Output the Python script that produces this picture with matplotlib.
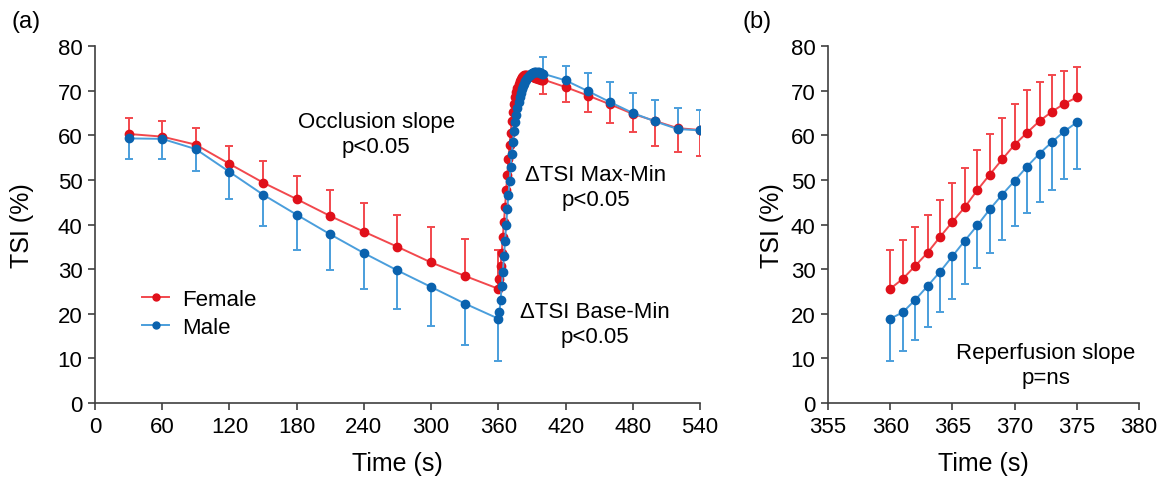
import numpy as np
import matplotlib
matplotlib.use("Agg")
import matplotlib.pyplot as plt
from matplotlib.lines import Line2D

plt.rcParams['font.family'] = ['Liberation Sans', 'DejaVu Sans']

# occlusion phase, every 30 s
occ_t = [30, 60, 90, 120, 150, 180, 210, 240, 270, 300, 330, 360]
fem_occ = [60.3, 59.7, 57.9, 53.6, 49.4, 45.7, 41.9, 38.4, 35.0, 31.5, 28.5, 25.6]
fem_occ_err = [3.5, 3.6, 3.7, 4.1, 4.8, 5.2, 5.8, 6.4, 7.1, 8.0, 8.2, 8.7]
male_occ = [59.3, 59.2, 56.9, 51.8, 46.7, 42.2, 37.8, 33.6, 29.7, 26.0, 22.3, 18.9]
male_occ_err = [4.6, 4.5, 4.9, 6.0, 7.0, 7.9, 8.1, 8.1, 8.6, 8.8, 9.2, 9.4]

# reperfusion, every second 361-375
rep_t = list(range(361, 376))
fem_rep = [27.8, 30.7, 33.7, 37.2, 40.6, 43.9, 47.7, 51.2, 54.6, 57.9, 60.6, 63.2, 65.3, 67.1, 68.5]
fem_rep_err = [8.8, 8.8, 8.5, 8.2, 8.6, 8.8, 8.9, 9.1, 9.2, 9.1, 9.6, 8.7, 8.1, 7.4, 6.7]
male_rep = [20.3, 23.1, 26.2, 29.4, 32.9, 36.4, 39.8, 43.4, 46.7, 49.8, 53.0, 55.9, 58.5, 60.9, 62.9]
male_rep_err = [8.7, 9.0, 9.1, 9.1, 9.6, 9.7, 9.6, 9.7, 10.1, 10.2, 10.4, 10.8, 10.7, 10.7, 10.5]

# reperfusion 376-399 (no error bars shown)
late_t = list(range(376, 400))
fem_late = [69.7, 70.7, 71.5, 72.1, 72.6, 73.0, 73.3, 73.5, 73.6, 73.6, 73.6, 73.5,
            73.4, 73.3, 73.2, 73.1, 73.0, 72.9, 72.8, 72.7, 72.6, 72.6, 72.5, 72.5]
male_late = [64.6, 66.1, 67.4, 68.5, 69.5, 70.3, 71.0, 71.6, 72.1, 72.5, 72.9, 73.2,
             73.5, 73.7, 73.9, 74.0, 74.1, 74.2, 74.2, 74.2, 74.1, 74.0, 73.9, 73.8]

# recovery, every 20 s
rec_t = [400, 420, 440, 460, 480, 500, 520, 540]
fem_rec = [72.5, 70.8, 68.9, 66.9, 64.8, 63.2, 61.6, 61.2]
fem_rec_err = [3.2, 3.4, 3.7, 4.1, 4.0, 5.5, 5.3, 5.8]
male_rec = [73.8, 72.3, 69.9, 67.4, 65.0, 63.1, 61.4, 61.1]
male_rec_err = [3.7, 3.3, 4.1, 4.5, 4.5, 4.7, 4.7, 4.6]

red_line, red_dot = '#F2484D', '#E0101A'
blue_line, blue_dot = '#4A9EDC', '#0A62AE'
spine_col = '#404040'

fig = plt.figure(figsize=(11.71, 4.85), dpi=100)
ax1 = fig.add_axes([0.0811, 0.167, 0.5167, 0.736])
ax2 = fig.add_axes([0.7071, 0.167, 0.2656, 0.736])

for ax in (ax1, ax2):
    ax.spines['top'].set_visible(False)
    ax.spines['right'].set_visible(False)
    for s in ('left', 'bottom'):
        ax.spines[s].set_color(spine_col)
        ax.spines[s].set_linewidth(1.2)
    ax.tick_params(direction='out', length=5, width=1.2, color=spine_col, labelsize=16, pad=4)
    ax.set_ylim(0, 80)
    ax.set_yticks(np.arange(0, 81, 10))
    ax.set_ylabel('TSI (%)', fontsize=18)
    ax.set_xlabel('Time (s)', fontsize=18)

ax1.yaxis.set_label_coords(-0.1, 0.5)
ax2.yaxis.set_label_coords(-0.14, 0.5)
ax1.xaxis.set_label_coords(0.5, -0.135)
ax2.xaxis.set_label_coords(0.5, -0.135)

# panel a
t_all = occ_t + rep_t + late_t + rec_t
f_all = fem_occ + fem_rep + fem_late + fem_rec
m_all = male_occ + male_rep + male_late + male_rec

ax1.errorbar(occ_t, fem_occ, yerr=[np.zeros(len(fem_occ)), fem_occ_err], fmt='none',
             ecolor=red_line, elinewidth=1.4, capsize=3, capthick=1.4)
ax1.errorbar(rec_t, fem_rec, yerr=[fem_rec_err, np.zeros(len(fem_rec))], fmt='none',
             ecolor=red_line, elinewidth=1.4, capsize=3, capthick=1.4)
ax1.plot(t_all, f_all, color=red_line, lw=1.4, zorder=3)
ax1.plot(t_all, f_all, 'o', color=red_dot, ms=6, zorder=4)

ax1.errorbar(occ_t, male_occ, yerr=[male_occ_err, np.zeros(len(male_occ))], fmt='none',
             ecolor=blue_line, elinewidth=1.4, capsize=3, capthick=1.4)
ax1.errorbar(rec_t, male_rec, yerr=[np.zeros(len(male_rec)), male_rec_err], fmt='none',
             ecolor=blue_line, elinewidth=1.4, capsize=3, capthick=1.4)
ax1.plot(t_all, m_all, color=blue_line, lw=1.4, zorder=5)
ax1.plot(t_all, m_all, 'o', color=blue_dot, ms=6, zorder=6)

ax1.set_xlim(0, 540)
ax1.set_xticks(np.arange(0, 541, 60))

h_f = Line2D([], [], color=red_line, lw=1.4, marker='o', ms=5, mfc=red_dot, mec=red_dot)
h_m = Line2D([], [], color=blue_line, lw=1.4, marker='o', ms=5, mfc=blue_dot, mec=blue_dot)
ax1.legend([h_f, h_m], ['Female', 'Male'], loc='upper left', bbox_to_anchor=(0.045, 0.375),
           frameon=False, fontsize=16, handlelength=1.2, handletextpad=0.6, labelspacing=0.3)

ax1.text(251, 60.3, 'Occlusion slope\np<0.05', ha='center', va='center', fontsize=16, linespacing=1.25)
ax1.text(447, 48.5, 'ΔTSI Max-Min\np<0.05', ha='center', va='center', fontsize=16, linespacing=1.25)
ax1.text(446, 17.7, 'ΔTSI Base-Min\np<0.05', ha='center', va='center', fontsize=16, linespacing=1.25)

# panel b
b_t = occ_t[-1:] + rep_t
bf = fem_occ[-1:] + fem_rep
bf_err = fem_occ_err[-1:] + fem_rep_err
bm = male_occ[-1:] + male_rep
bm_err = male_occ_err[-1:] + male_rep_err

ax2.errorbar(b_t, bf, yerr=[np.zeros(len(bf)), bf_err], fmt='none',
             ecolor=red_line, elinewidth=1.4, capsize=3, capthick=1.4)
ax2.plot(b_t, bf, color=red_line, lw=1.4, zorder=3)
ax2.plot(b_t, bf, 'o', color=red_dot, ms=6, zorder=4)
ax2.errorbar(b_t, bm, yerr=[bm_err, np.zeros(len(bm))], fmt='none',
             ecolor=blue_line, elinewidth=1.4, capsize=3, capthick=1.4)
ax2.plot(b_t, bm, color=blue_line, lw=1.4, zorder=5)
ax2.plot(b_t, bm, 'o', color=blue_dot, ms=6, zorder=6)
ax2.set_xlim(355, 380)
ax2.set_xticks(np.arange(355, 381, 5))
ax2.text(372.5, 8.5, 'Reperfusion slope\np=ns', ha='center', va='center', fontsize=16, linespacing=1.25)

fig.text(0.01, 0.955, '(a)', fontsize=17, va='center')
fig.text(0.634, 0.955, '(b)', fontsize=17, va='center')

fig.savefig('out.png', dpi=100)
